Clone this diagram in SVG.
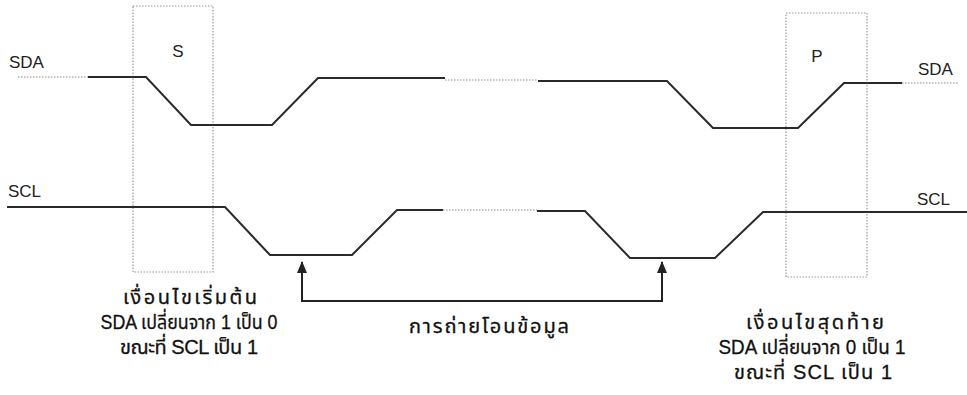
<svg xmlns="http://www.w3.org/2000/svg" width="967" height="395" viewBox="0 0 967 395">
<defs>
<style>
.sig{fill:none;stroke:#2a2a2a;stroke-width:2;stroke-linejoin:miter}
.dot{fill:none;stroke:#8a8a8a;stroke-width:1.2;stroke-dasharray:1.5 1.5}
.box{fill:none;stroke:#999;stroke-width:1.2;stroke-dasharray:1.5 1.5}
.lbl{font-family:"Liberation Sans",Arial,sans-serif;font-size:17px;fill:#222}
.th{font-family:"Liberation Sans","Noto Sans Thai","Noto Sans",sans-serif;font-size:20px;fill:#111;text-anchor:middle;stroke:#111;stroke-width:0.3}
.arr{fill:none;stroke:#222;stroke-width:2}
</style>
<marker id="ah" viewBox="0 0 12 10" refX="11" refY="5" markerWidth="12" markerHeight="10" markerUnits="userSpaceOnUse" orient="auto-start-reverse">
<path d="M0,0 L12,5 L0,10 Z" fill="#222"/>
</marker>
</defs>
<rect width="967" height="395" fill="#fff"/>
<g id="start-box">
<rect class="box" x="133" y="6" width="80" height="266"/>
<text class="lbl" x="178" y="57" text-anchor="middle">S</text>
</g>
<g id="stop-box">
<rect class="box" x="786" y="13" width="81" height="264"/>
<text class="lbl" x="817" y="62" text-anchor="middle">P</text>
</g>
<g id="sda">
<text class="lbl" x="9" y="68">SDA</text>
<text class="lbl" x="918" y="75">SDA</text>
<path class="dot" d="M18,77 H88"/>
<path class="sig" d="M88,77 H146 L191,125 H272 L318,78 H445"/>
<path class="dot" d="M445,80 H538"/>
<path class="sig" d="M538,81 H667 L713,128 H798 L844,83 H902"/>
<path class="dot" d="M902,83 H958"/>
</g>
<g id="scl">
<text class="lbl" x="8" y="197">SCL</text>
<text class="lbl" x="917" y="205">SCL</text>
<path class="sig" d="M7,207 H225 L270,255 H352 L397,210 H443"/>
<path class="dot" d="M443,210 H537"/>
<path class="sig" d="M537,211 H585 L630,258 H715 L763,212 H967"/>
</g>
<g id="connectors">
<path class="arr" d="M302,262 V301 H662 V262" marker-start="url(#ah)" marker-end="url(#ah)"/>
</g>
<g id="start-note">
<text class="th" x="190" y="304" textLength="134" lengthAdjust="spacing">เงื่อนไขเริ่มต้น</text>
<text class="th" x="189" y="329" textLength="177" lengthAdjust="spacingAndGlyphs">SDA เปลี่ยนจาก 1 เป็น 0</text>
<text class="th" x="189" y="354" textLength="138" lengthAdjust="spacing">ขณะที่ SCL เป็น 1</text>
</g>
<g id="transfer-note">
<text class="th" x="489" y="333" textLength="160" lengthAdjust="spacing">การถ่ายโอนข้อมูล</text>
</g>
<g id="stop-note">
<text class="th" x="815" y="329" textLength="138" lengthAdjust="spacing">เงื่อนไขสุดท้าย</text>
<text class="th" x="812" y="354" textLength="187" lengthAdjust="spacingAndGlyphs">SDA เปลี่ยนจาก 0 เป็น 1</text>
<text class="th" x="813" y="379" textLength="158" lengthAdjust="spacing">ขณะที่ SCL เป็น 1</text>
</g>
</svg>
